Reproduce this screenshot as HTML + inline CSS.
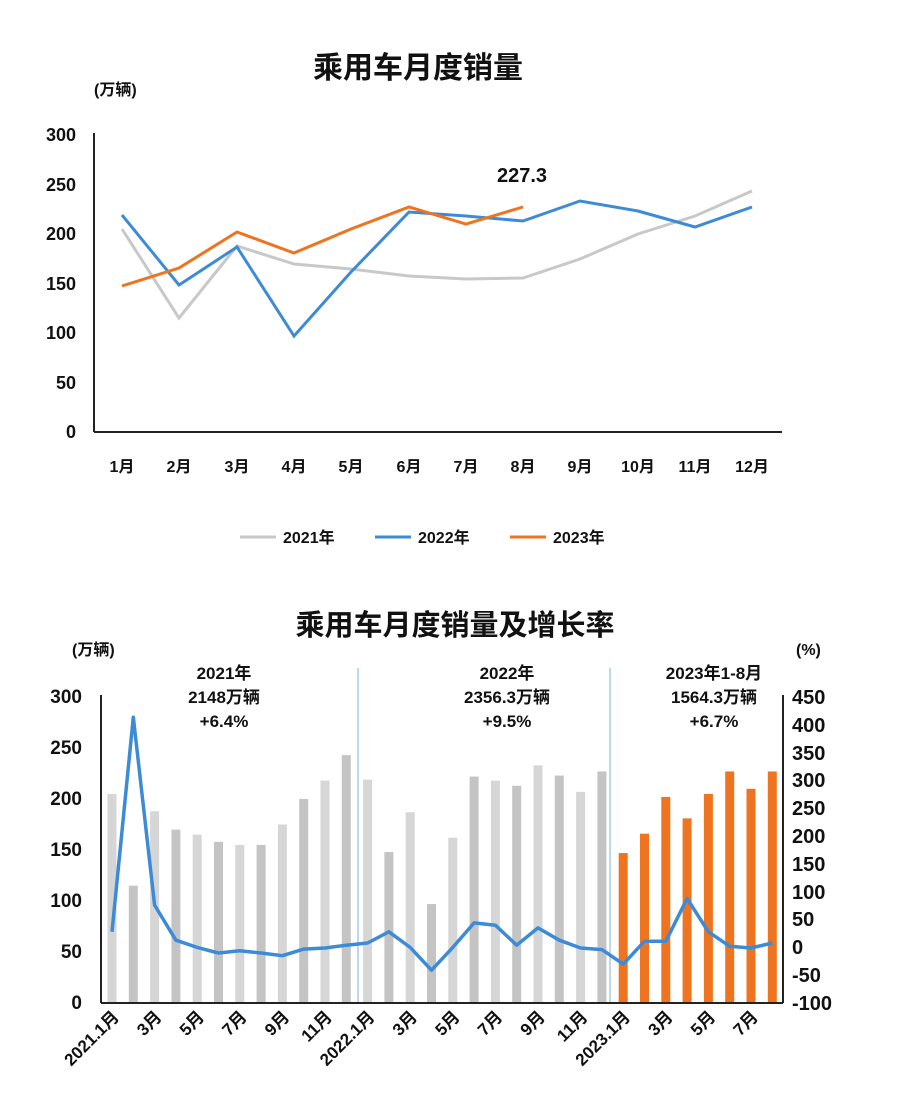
<!DOCTYPE html>
<html><head><meta charset="utf-8"><style>
html,body{margin:0;padding:0;background:#fff}
svg{display:block}
text{font-family:"Liberation Sans","Noto Sans CJK SC",sans-serif;font-weight:bold;fill:#111}
</style></head><body>
<svg width="900" height="1120" viewBox="0 0 900 1120" xmlns="http://www.w3.org/2000/svg">
<rect width="900" height="1120" fill="#fff"/>
<!-- TOP CHART -->
<text x="418" y="78" font-size="30" text-anchor="middle">乘用车月度销量</text>
<text x="94" y="95" font-size="16">(万辆)</text>
<g font-size="18" text-anchor="end">
<text x="76" y="141">300</text><text x="76" y="191">250</text><text x="76" y="240">200</text>
<text x="76" y="290">150</text><text x="76" y="339">100</text><text x="76" y="389">50</text><text x="76" y="438">0</text>
</g>
<line x1="94" y1="133" x2="94" y2="432" stroke="#222" stroke-width="2"/>
<line x1="94" y1="432" x2="782" y2="432" stroke="#222" stroke-width="2"/>
<g font-size="16" text-anchor="middle">
<text x="122" y="472">1月</text><text x="179" y="472">2月</text><text x="237" y="472">3月</text>
<text x="294" y="472">4月</text><text x="351" y="472">5月</text><text x="409" y="472">6月</text>
<text x="466" y="472">7月</text><text x="523" y="472">8月</text><text x="580" y="472">9月</text>
<text x="638" y="472">10月</text><text x="695" y="472">11月</text><text x="752" y="472">12月</text>
</g>
<polyline fill="none" stroke="#c8c8c8" stroke-width="3" points="122,229 179,318 237,246 294,264 351,269 409,276 466,279 523,278 580,259 638,234 695,216 752,191"/>
<polyline fill="none" stroke="#3d8bd6" stroke-width="3" points="122,215 179,285 237,247 294,336 351,272 409,212 466,216 523,221 580,201 638,211 695,227 752,207"/>
<polyline fill="none" stroke="#ee7420" stroke-width="3" points="122,286 179,268 237,232 294,253 351,229 409,207 466,224 523,207"/>
<text x="522" y="182" font-size="20" text-anchor="middle">227.3</text>
<line x1="240" y1="537" x2="276" y2="537" stroke="#c8c8c8" stroke-width="3"/>
<text x="283" y="543" font-size="16">2021年</text>
<line x1="375" y1="537" x2="411" y2="537" stroke="#3d8bd6" stroke-width="3"/>
<text x="418" y="543" font-size="16">2022年</text>
<line x1="510" y1="537" x2="546" y2="537" stroke="#ee7420" stroke-width="3"/>
<text x="553" y="543" font-size="16">2023年</text>

<!-- BOTTOM CHART -->
<text x="455" y="635" font-size="29" text-anchor="middle">乘用车月度销量及增长率</text>
<text x="72" y="655" font-size="16">(万辆)</text>
<text x="796" y="655" font-size="16">(%)</text>
<g font-size="19" text-anchor="end">
<text x="82" y="703">300</text><text x="82" y="754">250</text><text x="82" y="805">200</text>
<text x="82" y="856">150</text><text x="82" y="907">100</text><text x="82" y="958">50</text><text x="82" y="1009">0</text>
</g>
<g font-size="20" text-anchor="start">
<text x="792" y="704">450</text><text x="792" y="732">400</text><text x="792" y="760">350</text>
<text x="792" y="787">300</text><text x="792" y="815">250</text><text x="792" y="843">200</text>
<text x="792" y="871">150</text><text x="792" y="899">100</text><text x="792" y="926">50</text>
<text x="792" y="954">0</text><text x="792" y="982">-50</text><text x="792" y="1010">-100</text>
</g>
<g id="bars"></g>
<line x1="358" y1="668" x2="358" y2="1003" stroke="#7fb0df" stroke-width="1"/>
<line x1="610" y1="668" x2="610" y2="1003" stroke="#7fb0df" stroke-width="1"/>
<line x1="101" y1="695" x2="101" y2="1003" stroke="#222" stroke-width="2"/>
<line x1="783" y1="695" x2="783" y2="1003" stroke="#222" stroke-width="2"/>
<line x1="101" y1="1003" x2="783" y2="1003" stroke="#222" stroke-width="2"/>
<g font-size="17" text-anchor="middle">
<text x="224" y="679">2021年</text><text x="224" y="703">2148万辆</text><text x="224" y="727">+6.4%</text>
<text x="507" y="679">2022年</text><text x="507" y="703">2356.3万辆</text><text x="507" y="727">+9.5%</text>
<text x="714" y="679">2023年1-8月</text><text x="714" y="703">1564.3万辆</text><text x="714" y="727">+6.7%</text>
</g>
<g id="xl" font-size="17" text-anchor="end"></g>
<polyline id="gl" fill="none" stroke="#3d8bd6" stroke-width="3.5" stroke-linejoin="round"/>
<script>
var v=[205,115,188,170,165,158,155,155,175,200,218,243,219,148,187,97,162,222,218,213,233,223,207,227,147,166,202,181,205,227,210,227];
var g=[28,414,76,13,0,-10,-6,-10,-15,-3,-1,4,8,28,0,-41,0,44,40,4,35,13,-1,-4,-30,11,11,88,28,2,-1,8];
var ns="http://www.w3.org/2000/svg",b=document.getElementById('bars'),pts=[];
var lab=["2021.1月","3月","5月","7月","9月","11月","2022.1月","3月","5月","7月","9月","11月","2023.1月","3月","5月","7月"];
var xl=document.getElementById('xl');
for(var i=0;i<32;i++){var x=112+i*21.3;var h=v[i]*1.02;var r=document.createElementNS(ns,'rect');
r.setAttribute('x',x-4.5);r.setAttribute('y',1003-h);r.setAttribute('width',9);r.setAttribute('height',h);
r.setAttribute('fill',i>=24?'#ee7420':(i%2?'#c4c4c4':'#d6d6d6'));b.appendChild(r);
pts.push(x.toFixed(1)+','+(947.4-g[i]*0.556).toFixed(1));
if(i%2==0){var t=document.createElementNS(ns,'text');t.setAttribute('transform','translate('+(x+8)+',1018) rotate(-45)');t.textContent=lab[i/2];xl.appendChild(t);}}
document.getElementById('gl').setAttribute('points',pts.join(' '));
</script>
</svg>
</body></html>
